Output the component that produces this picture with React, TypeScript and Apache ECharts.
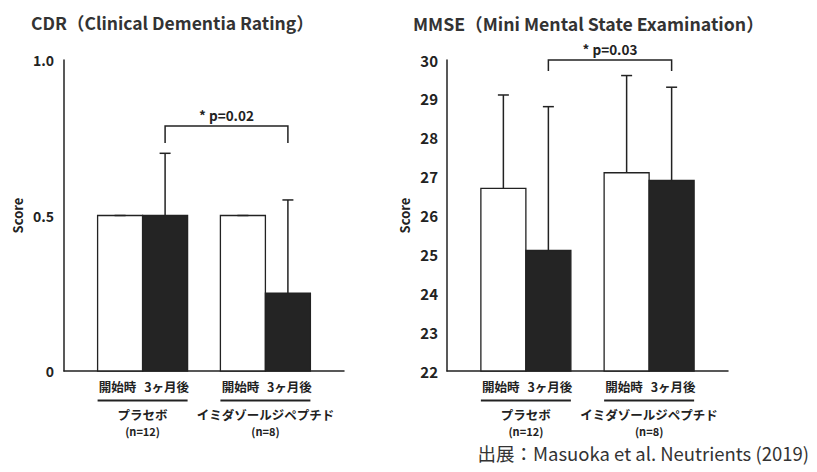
import React, { useEffect, useRef } from "react";
import * as echarts from "echarts";

// ---- data ----
const groups = ["プラセボ", "イミダゾールジペプチド"];
const groupN = ["(n=12)", "(n=8)"];
const timepoints = ["開始時", "3ヶ月後"];

const cdrBaseline = [0.5, 0.5];
const cdrBaselineSD = [0, 0];
const cdrAfter = [0.5, 0.25];
const cdrAfterSD = [0.2, 0.3];

const mmseBaseline = [26.7, 27.1];
const mmseBaselineSD = [2.4, 2.5];
const mmseAfter = [25.1, 26.9];
const mmseAfterSD = [3.7, 2.4];

const cdrSigText = "* p=0.02";
const cdrSigLevels = [0.788, 0.733]; // bracket top, bracket foot
const mmseSigText = "* p=0.03";
const mmseSigLevels = [30.0, 29.72];

const titles = ["CDR（Clinical Dementia Rating）", "MMSE（Mini Mental State Examination）"];
const sourceText = "出展：Masuoka et al. Neutrients (2019)";

const FONT = '"Noto Sans CJK JP", "Noto Sans", sans-serif';
const INK = "#222";
const BAR_W = 45;

function barSeries(gi: number, values: number[], yMin: number, side: number, fill: string) {
  return {
    type: "custom",
    xAxisIndex: gi,
    yAxisIndex: gi,
    z: 3,
    clip: false,
    silent: true,
    data: values.map((v, i) => [i, v]),
    renderItem: (params: any, api: any) => {
      const top = api.coord([api.value(0), api.value(1)]);
      const bot = api.coord([api.value(0), yMin]);
      const x = side < 0 ? top[0] - BAR_W : top[0];
      return {
        type: "rect",
        shape: { x, y: top[1], width: BAR_W, height: bot[1] - top[1] },
        style: { fill, stroke: INK, lineWidth: 1.3 },
      };
    },
  };
}

function errorSeries(gi: number, means: number[], sds: number[], side: number) {
  return {
    type: "custom",
    xAxisIndex: gi,
    yAxisIndex: gi,
    z: 5,
    clip: false,
    silent: true,
    data: means.map((m, i) => [i, m, sds[i]]),
    renderItem: (params: any, api: any) => {
      const g = api.value(0);
      const m = api.value(1);
      const sd = api.value(2);
      const p0 = api.coord([g, m]);
      const p1 = api.coord([g, m + sd]);
      const x = p0[0] + (side * BAR_W) / 2;
      return {
        type: "group",
        children: [
          { type: "line", shape: { x1: x, y1: p0[1], x2: x, y2: p1[1] }, style: { stroke: INK, lineWidth: 1.5 } },
          { type: "line", shape: { x1: x - 5.5, y1: p1[1], x2: x + 5.5, y2: p1[1] }, style: { stroke: INK, lineWidth: 1.5 } },
        ],
      };
    },
  };
}

function bracketSeries(gi: number, text: string, levels: number[]) {
  return {
    type: "custom",
    xAxisIndex: gi,
    yAxisIndex: gi,
    z: 6,
    clip: false,
    silent: true,
    data: [[0, levels[0], 1, levels[1]]],
    renderItem: (params: any, api: any) => {
      const a = api.coord([api.value(0), api.value(1)]);
      const b = api.coord([api.value(2), api.value(3)]);
      const x0 = a[0] + BAR_W / 2;
      const x1 = b[0] + BAR_W / 2;
      const yt = a[1];
      const yf = b[1];
      return {
        type: "group",
        children: [
          {
            type: "polyline",
            shape: { points: [[x0, yf], [x0, yt], [x1, yt], [x1, yf]] },
            style: { stroke: INK, lineWidth: 1.5, fill: null },
          },
          {
            type: "text",
            style: {
              text,
              x: (x0 + x1) / 2,
              y: yt - 4,
              align: "center",
              verticalAlign: "bottom",
              font: `bold 13.5px ${FONT}`,
              fill: INK,
            },
          },
        ],
      };
    },
  };
}

function labelSeries(gi: number, yMin: number) {
  return {
    type: "custom",
    xAxisIndex: gi,
    yAxisIndex: gi,
    z: 6,
    clip: false,
    silent: true,
    data: groups.map((_, i) => [i, yMin]),
    renderItem: (params: any, api: any) => {
      const i = params.dataIndex;
      const p = api.coord([api.value(0), api.value(1)]);
      const cx = p[0];
      const base = p[1];
      const txt = (text: string, x: number, y: number, size: number) => ({
        type: "text",
        style: { text, x, y, align: "center", verticalAlign: "middle", font: `bold ${size}px ${FONT}`, fill: INK },
      });
      return {
        type: "group",
        children: [
          txt(timepoints[0], cx - 25, base + 15.5, 12.5),
          txt(timepoints[1], cx + 24, base + 15.5, 12.5),
          {
            type: "line",
            shape: { x1: cx - BAR_W, y1: base + 29.5, x2: cx + BAR_W, y2: base + 29.5 },
            style: { stroke: INK, lineWidth: 2 },
          },
          txt(groups[i], cx, base + 43.5, 12.5),
          txt(groupN[i], cx, base + 59.5, 11),
        ],
      };
    },
  };
}

export default function App() {
  const ref = useRef<HTMLDivElement>(null);
  useEffect(() => {
    if (!ref.current) return;
    const chart = echarts.init(ref.current, undefined, { renderer: "svg" });
    const xAxisBase = {
      type: "value",
      min: -0.64,
      max: 1.64,
      axisLine: { show: true, onZero: false, lineStyle: { color: INK, width: 1.5 } },
      axisTick: { show: false },
      axisLabel: { show: false },
      splitLine: { show: false },
    };
    const yAxisBase = {
      type: "value",
      axisLine: { show: true, onZero: false, lineStyle: { color: INK, width: 1.5 } },
      axisTick: { show: false },
      splitLine: { show: false },
      name: "Score",
      nameLocation: "middle",
      nameRotate: 90,
      nameTextStyle: { fontFamily: FONT, fontWeight: "bold", fontSize: 13, color: INK },
    };
    chart.setOption({
      animation: false,
      backgroundColor: "#fff",
      title: [
        { text: titles[0], left: 26, top: 9, textStyle: { fontFamily: FONT, fontWeight: "bold", fontSize: 17.5, color: "#333" } },
        { text: titles[1], left: 408, top: 9, textStyle: { fontFamily: FONT, fontWeight: "bold", fontSize: 17.7, color: "#333" } },
        { text: sourceText, right: 3, bottom: 5, textStyle: { fontFamily: FONT, fontWeight: "normal", fontSize: 18.5, color: "#333" } },
      ],
      grid: [
        { left: 64, top: 60, width: 280, height: 311 },
        { left: 447, top: 60, width: 281, height: 311 },
      ],
      xAxis: [
        { ...xAxisBase, gridIndex: 0 },
        { ...xAxisBase, gridIndex: 1 },
      ],
      yAxis: [
        {
          ...yAxisBase,
          gridIndex: 0,
          min: 0,
          max: 1,
          interval: 0.5,
          nameGap: 40,
          axisLabel: {
            margin: 10,
            fontFamily: FONT,
            fontWeight: "bold",
            fontSize: 14,
            color: INK,
            formatter: (v: number) => (v === 0 ? "0" : v.toFixed(1)),
          },
        },
        {
          ...yAxisBase,
          gridIndex: 1,
          min: 22,
          max: 30,
          interval: 1,
          nameGap: 36,
          axisLabel: { margin: 9, fontFamily: FONT, fontWeight: "bold", fontSize: 15, color: INK },
        },
      ],
      series: [
        barSeries(0, cdrBaseline, 0, -1, "#fff"),
        barSeries(0, cdrAfter, 0, 1, "#242424"),
        barSeries(1, mmseBaseline, 22, -1, "#fff"),
        barSeries(1, mmseAfter, 22, 1, "#242424"),
        errorSeries(0, cdrBaseline, cdrBaselineSD, -1),
        errorSeries(0, cdrAfter, cdrAfterSD, 1),
        errorSeries(1, mmseBaseline, mmseBaselineSD, -1),
        errorSeries(1, mmseAfter, mmseAfterSD, 1),
        bracketSeries(0, cdrSigText, cdrSigLevels),
        bracketSeries(1, mmseSigText, mmseSigLevels),
        labelSeries(0, 0),
        labelSeries(1, 22),
      ],
    });
    return () => chart.dispose();
  }, []);
  return <div ref={ref} style={{ position: "absolute", left: 0, top: 0, width: 817, height: 472 }} />;
}
